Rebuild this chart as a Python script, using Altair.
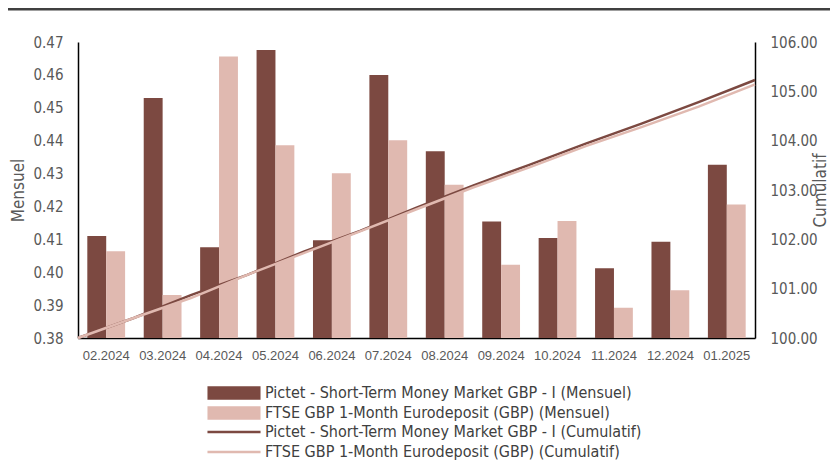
import altair as alt
import pandas as pd

months = ["02.2024", "03.2024", "04.2024", "05.2024", "06.2024", "07.2024",
          "08.2024", "09.2024", "10.2024", "11.2024", "12.2024", "01.2025"]
fund_name = "Pictet - Short-Term Money Market GBP - I"
bench_name = "FTSE GBP 1-Month Eurodeposit (GBP)"
fund_monthly = [0.411, 0.453, 0.4076, 0.4676, 0.4097, 0.460, 0.4368, 0.4154, 0.4104, 0.4012, 0.4093, 0.4327]
bench_monthly = [0.4064, 0.3931, 0.4656, 0.4386, 0.4301, 0.4401, 0.4266, 0.4023, 0.4156, 0.3892, 0.3945, 0.4206]
# cumulative index at month boundaries (start, then end of each month)
cum_idx = list(range(13))
fund_cum = [100.0, 100.41, 100.87, 101.28, 101.75, 102.17, 102.64, 103.09, 103.51, 103.94, 104.35, 104.78, 105.23]
bench_cum = [100.0, 100.41, 100.81, 101.28, 101.72, 102.16, 102.61, 103.05, 103.46, 103.89, 104.28, 104.69, 105.14]

DARK = "#7c4941"
LIGHT = "#e0b9b0"
FONT = "Liberation Sans Narrow, DejaVu Sans Condensed, Roboto Condensed, Noto Sans"
XFONT = "Liberation Sans"
TXT = "#595959"

bar_names = [fund_name + " (Mensuel)", bench_name + " (Mensuel)"]
line_names = [fund_name + " (Cumulatif)", bench_name + " (Cumulatif)"]

bars_df = pd.DataFrame(
    [{"month": m, "series": bar_names[0], "value": v} for m, v in zip(months, fund_monthly)]
    + [{"month": m, "series": bar_names[1], "value": v} for m, v in zip(months, bench_monthly)]
)
fund_line_df = pd.DataFrame({"idx": cum_idx, "value": fund_cum, "series": line_names[0]})
bench_line_df = pd.DataFrame({"idx": cum_idx, "value": bench_cum, "series": line_names[1]})

W, H = 677, 296
rect_path = "M-4,-1L4,-1L4,1L-4,1Z"
line_path = "M-4,0L4,0"

bars = alt.Chart(bars_df).mark_bar(clip=True).encode(
    x=alt.X("month:N", sort=months, title=None,
            scale=alt.Scale(paddingInner=0.33, paddingOuter=0.165),
            axis=alt.Axis(labelAngle=0, ticks=False, tickSize=0, labelPadding=11,
                          domainColor="#000000", labelFontSize=13, labelColor=TXT, labelFont=XFONT)),
    xOffset=alt.XOffset("series:N", sort=bar_names),
    y=alt.Y("value:Q", title="Mensuel",
            scale=alt.Scale(domain=[0.38, 0.47], nice=False, zero=False),
            axis=alt.Axis(values=[0.38, 0.39, 0.40, 0.41, 0.42, 0.43, 0.44, 0.45, 0.46, 0.47],
                          format=".2f", grid=False, ticks=False, tickSize=0, labelPadding=15,
                          domainColor="#000000", labelFontSize=15, labelColor=TXT, labelFont=FONT,
                          titleFontSize=17, titleFontWeight="normal", titleColor=TXT, titleFont=FONT,
                          titlePadding=5)),
    color=alt.Color("series:N", sort=bar_names, title=None,
                    scale=alt.Scale(domain=bar_names, range=[DARK, LIGHT]),
                    legend=alt.Legend(orient="none", legendX=148, legendY=343,
                                      symbolType=rect_path, symbolSize=176, symbolStrokeWidth=0,
                                      labelFontSize=16, labelColor="#404040", labelFont=FONT,
                                      labelLimit=600, rowPadding=4, labelOffset=23)),
)

line_x = alt.X("idx:Q", scale=alt.Scale(domain=[0, 12], nice=False, zero=False), axis=None)
line_y = alt.Y("value:Q", title="Cumulatif",
               scale=alt.Scale(domain=[100, 106], nice=False, zero=False),
               axis=alt.Axis(orient="right", values=[100, 101, 102, 103, 104, 105, 106],
                             format=".2f", grid=False, ticks=False, tickSize=0, labelPadding=15,
                             domainColor="#000000", labelFontSize=15, labelColor=TXT, labelFont=FONT,
                             titleFontSize=17, titleFontWeight="normal", titleColor=TXT, titleFont=FONT,
                             titleAngle=270, titlePadding=12))
stroke_enc = alt.Stroke("series:N", title=None,
                        scale=alt.Scale(domain=line_names, range=[DARK, LIGHT]),
                        legend=alt.Legend(orient="none", legendX=148, legendY=382,
                                          symbolType=line_path, symbolSize=176, symbolStrokeWidth=2.5,
                                          labelFontSize=16, labelColor="#404040", labelFont=FONT,
                                          labelLimit=600, rowPadding=4, labelOffset=23))

fund_line = alt.Chart(fund_line_df).mark_line(strokeWidth=2.5).encode(
    x=line_x, y=line_y, stroke=stroke_enc)
bench_line = alt.Chart(bench_line_df).mark_line(strokeWidth=2.5).encode(
    x=line_x, y=alt.Y("value:Q"), stroke=alt.Stroke("series:N"))
lines = alt.layer(fund_line, bench_line)

top_band = alt.Chart(pd.DataFrame({"a": [0]})).mark_rule(color="#404040", strokeWidth=3).encode(
    x=alt.value(-75), x2=alt.value(760), y=alt.value(-33))

chart = alt.layer(top_band, bars, lines).resolve_scale(
    x="independent", y="independent", color="independent", stroke="independent"
).properties(
    width=W, height=H,
    autosize=alt.AutoSizeParams(type="none"),
    padding={"left": 70, "top": 34, "right": 75, "bottom": 125},
).configure_view(stroke=None).configure_axis(domainWidth=1.5)

chart.save("out.html", embed_options={"renderer": "svg", "actions": False})
